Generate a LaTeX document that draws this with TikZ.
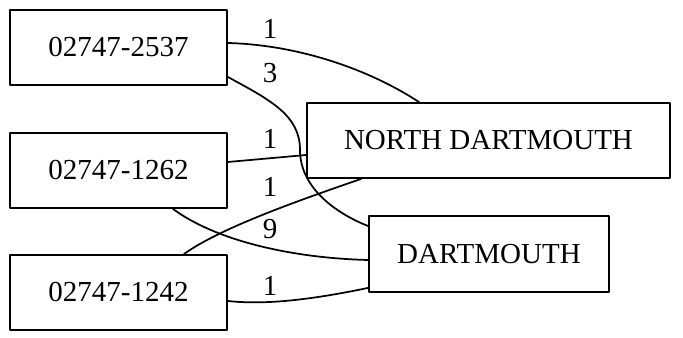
\documentclass[tikz,border=0pt]{standalone}
\usepackage{fontspec}
\setmainfont{Liberation Serif}
\usetikzlibrary{calc}
\newcommand\nodefont{\fontsize{21.75}{26}\selectfont}
\begin{document}
\begin{tikzpicture}[x=0.75pt,y=-0.75pt,line cap=round,line join=round,
    box/.style={draw,line width=1.4pt,inner sep=0pt,font=\nodefont},
    lbl/.style={font=\nodefont,inner sep=0pt},
    link/.style={line width=1.3pt}]
    \useasboundingbox (0,0) rectangle (683,338);
    % zip codes
    \node[box,minimum width=162.75pt,minimum height=56.25pt] (z2537) at (118.5,47.5) {02747-2537};
    \node[box,minimum width=162.75pt,minimum height=56.25pt] (z1262) at (118.5,170.5) {02747-1262};
    \node[box,minimum width=162.75pt,minimum height=56.25pt] (z1242) at (118.5,292.5) {02747-1242};
    % towns
    \node[box,minimum width=272.25pt,minimum height=56.25pt] (north) at (488.5,140.5) {NORTH DARTMOUTH};
    \node[box,minimum width=180pt,minimum height=57pt] (dart) at (489,254) {DARTMOUTH};
    % links
    \draw[link] ($(z2537.east)+(0,-4.5)$) .. controls (300,45) and (370,70) .. ($(north.north west)+(113,0)$);
    \draw[link] ($(z2537.east)+(0,29.5)$) .. controls (270,100) and (300,115) .. (300,150)
      .. controls (300,190) and (340,215) .. ($(dart.west)+(0,-28)$);
    \draw[link] ($(z1262.east)+(0,-8.5)$) -- ($(north.west)+(0,14.5)$);
    \draw[link] ($(z1262.south)+(54.5,0)$) .. controls (215,240) and (290,258) .. ($(dart.west)+(0,6)$);
    \draw[link] ($(z1242.north)+(65.5,0)$) .. controls (220,228) and (300,200) .. ($(north.south west)+(55,0)$);
    \draw[link] ($(z1242.east)+(0,8.5)$) .. controls (265,305) and (310,300) .. ($(dart.south west)+(0,-5)$);
    % counts
    \node[lbl] (n1) at (270,29) {1};
    \node[lbl] (n2) at (270,73) {3};
    \node[lbl] (n3) at (270,139) {1};
    \node[lbl] (n4) at (270,187) {1};
    \node[lbl] (n5) at (270,229) {9};
    \node[lbl] (n6) at (270,286) {1};
\end{tikzpicture}
\end{document}
